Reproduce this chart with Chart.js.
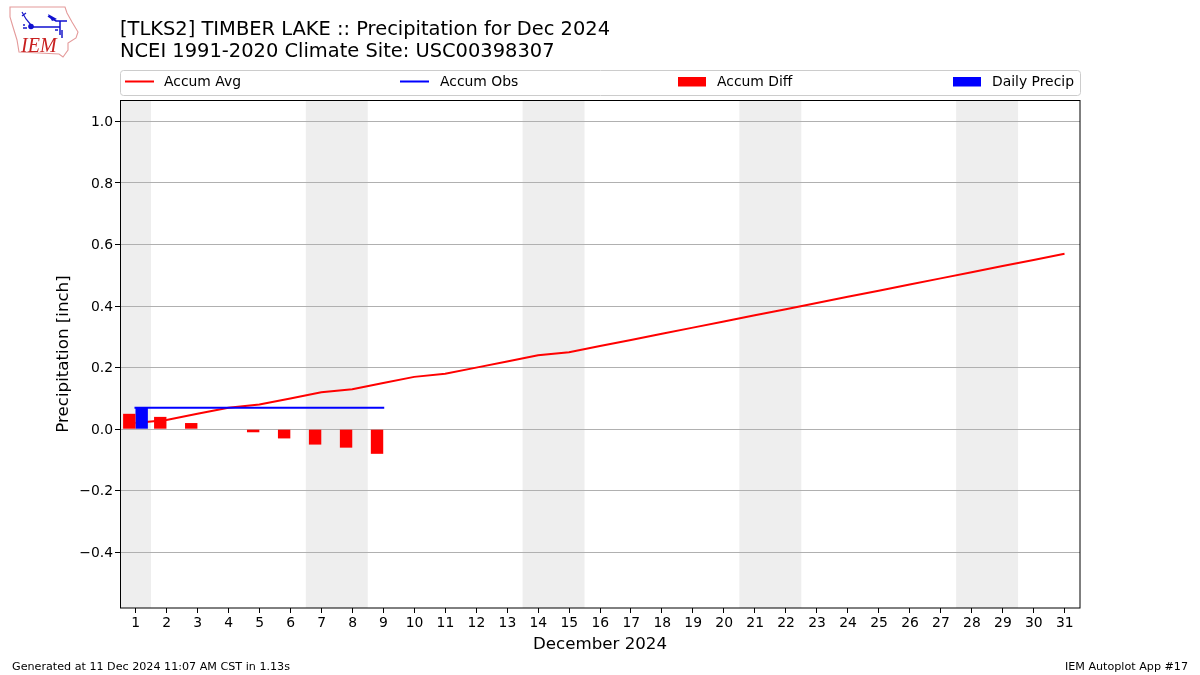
<!DOCTYPE html>
<html><head><meta charset="utf-8">
<style>html,body{margin:0;padding:0;background:#fff;width:1200px;height:675px;overflow:hidden}
#c{position:absolute;left:0;top:0}
#logo{position:absolute;left:0;top:0}</style>
<script src="https://cdn.jsdelivr.net/npm/chart.js@4"></script>
</head><body>
<canvas id="c" width="1200" height="675"></canvas>
<svg id="logo" width="100" height="65" viewBox="0 0 100 65">
<path d="M10 7 L65 7 L67 13 L72 22 L78 32 L76 38 L68 43 L68 50 L63 57 L59 54 L19 52 L17 40 L13 27 L10 17 Z" fill="none" stroke="#e49a9a" stroke-width="1.1"/>
<path d="M22 12 L26 19 L31 25 M22 16 L26 13" fill="none" stroke="#1818c8" stroke-width="1.2"/>
<circle cx="31" cy="26.5" r="2.8" fill="#1010d0"/>
<path d="M31 27 L60 27 L60 35 M48 16 L56 21 L67 21 M60 21 L60 27" fill="none" stroke="#1010d0" stroke-width="1.5"/>
<path d="M48 14 L57 19 L52 21 Z" fill="#1010d0"/>
<path d="M55 30 L58 30 M62 30 L62 38 M23 25 L25 25 M23 28 L27 28" stroke="#1818c8" stroke-width="1.5"/>
<text x="21" y="52" font-family="Liberation Serif" font-style="italic" font-size="20" fill="#c82020">IEM</text>
</svg>
<script>
const categories = ['1','2','3','4','5','6','7','8','9','10','11','12','13','14','15','16','17','18','19','20','21','22','23','24','25','26','27','28','29','30','31'];
const accumAvg = [0.02,0.03,0.05,0.07,0.08,0.10,0.12,0.13,0.15,0.17,0.18,0.20,0.22,0.24,0.25,0.27,0.29,0.31,0.33,0.35,0.37,0.39,0.41,0.43,0.45,0.47,0.49,0.51,0.53,0.55,0.57];
const accumObs = [0.07,0.07,0.07,0.07,0.07,0.07,0.07,0.07,0.07];
const accumDiff = [0.05,0.04,0.02,0,-0.01,-0.03,-0.05,-0.06,-0.08];
const dailyPrecip = [0.07,0,0,0,0,0,0,0,0];
const yTicks = [-0.4,-0.2,0,0.2,0.4,0.6,0.8,1.0];
const weekendBands = [[1,1],[7,8],[14,15],[21,22],[28,29]];
const titleLines = ['[TLKS2] TIMBER LAKE :: Precipitation for Dec 2024','NCEI 1991-2020 Climate Site: USC00398307'];
const footerLeft = 'Generated at 11 Dec 2024 11:07 AM CST in 1.13s';
const footerRight = 'IEM Autoplot App #17';
const xTitle = 'December 2024';
const yTitle = 'Precipitation [inch]';
const FONT = '"DejaVu Sans"';

const legendItems = [
 {label:'Accum Avg',color:'#ff0000',kind:'line',x:125,tx:164},
 {label:'Accum Obs',color:'#0000ff',kind:'line',x:400,tx:440},
 {label:'Accum Diff',color:'#ff0000',kind:'bar',x:678,tx:717},
 {label:'Daily Precip',color:'#0000ff',kind:'bar',x:953,tx:992}
];

const decor = {
 id:'decor',
 beforeDraw(chart){
  const {ctx,chartArea:a,scales:{x}}=chart;
  const step=x.getPixelForValue(1)-x.getPixelForValue(0);
  ctx.save();ctx.fillStyle='#eeeeee';
  weekendBands.forEach(([s,e])=>{
   const l=Math.max(a.left,x.getPixelForValue(s-1)-step/2), r=x.getPixelForValue(e-1)+step/2;
   ctx.fillRect(l,a.top,r-l,a.bottom-a.top);
  });
  ctx.restore();
 },
 afterDraw(chart){
  const {ctx,chartArea:a}=chart;
  ctx.save();
  ctx.strokeStyle='#000';ctx.lineWidth=1;
  ctx.strokeRect(a.left+0.5,a.top+0.5,a.right-a.left-0.5,a.bottom-a.top-0.5);
  ctx.fillStyle='#000';ctx.textBaseline='alphabetic';
  ctx.font='19.44px '+FONT;ctx.textAlign='left';
  ctx.fillText(titleLines[0],120,35);
  ctx.fillText(titleLines[1],120,57);
  ctx.font='11.15px '+FONT;
  ctx.fillText(footerLeft,12,670);
  ctx.textAlign='right';ctx.fillText(footerRight,1188,670);
  ctx.beginPath();ctx.roundRect(120.5,70.5,960,25,3);ctx.strokeStyle='#cccccc';ctx.stroke();
  ctx.textAlign='left';ctx.font='13.9px '+FONT;
  legendItems.forEach(it=>{
   ctx.fillStyle=it.color;
   if(it.kind==='line'){ctx.fillRect(it.x,80.5,29,2);}
   else{ctx.fillRect(it.x,77,28,9.5);}
   ctx.fillStyle='#000';ctx.fillText(it.label,it.tx,86);
  });
  ctx.restore();
 }
};

new Chart(document.getElementById('c'),{
 type:'bar',
 data:{labels:categories,datasets:[
  {type:'line',label:'Accum Avg',data:accumAvg,borderColor:'#ff0000',backgroundColor:'#ff0000',borderWidth:2,pointRadius:0,tension:0,order:3},
  {type:'line',label:'Accum Obs',data:accumObs,borderColor:'#0000ff',backgroundColor:'#0000ff',borderWidth:2,pointRadius:0,tension:0,order:0,borderCapStyle:'square'},
  {label:'Accum Diff',data:accumDiff,backgroundColor:'#ff0000',borderWidth:0,categoryPercentage:0.8,barPercentage:1,order:1},
  {label:'Daily Precip',data:dailyPrecip,backgroundColor:'#0000ff',borderWidth:0,categoryPercentage:0.8,barPercentage:1,order:2}
 ]},
 plugins:[decor],
 options:{
  responsive:false,animation:false,devicePixelRatio:1,
  layout:{padding:{left:54,right:120,top:100,bottom:20}},
  plugins:{legend:{display:false},title:{display:false},tooltip:{enabled:false}},
  scales:{
   x:{type:'category',offset:true,
    grid:{display:true,offset:false,drawOnChartArea:false,drawTicks:true,tickLength:5,tickColor:'#000',tickWidth:1},
    border:{display:false},
    ticks:{color:'#000',font:{family:FONT,size:13.9},padding:2,maxRotation:0,autoSkip:false,labelOffset:0.3},
    title:{display:true,text:xTitle,color:'#000',font:{family:FONT,size:16.67},padding:{top:2,bottom:0}},
    afterFit(s){s.height=47;}
   },
   y:{min:-0.5809,max:1.0695,
    afterBuildTicks(s){s.ticks=yTicks.map(v=>({value:v}));},
    grid:{color:'#b0b0b0',lineWidth:1,tickColor:'#000',tickLength:5},
    border:{display:false},
    ticks:{color:'#000',font:{family:FONT,size:13.9},padding:2,labelOffset:1,callback:v=>v.toFixed(1).replace('-','\u2212')},
    title:{display:true,text:yTitle,color:'#000',font:{family:FONT,size:16.67},padding:{top:0,bottom:0}},
    afterFit(s){s.width=66;}
   }
  }
 }
});
</script>
</body></html>
